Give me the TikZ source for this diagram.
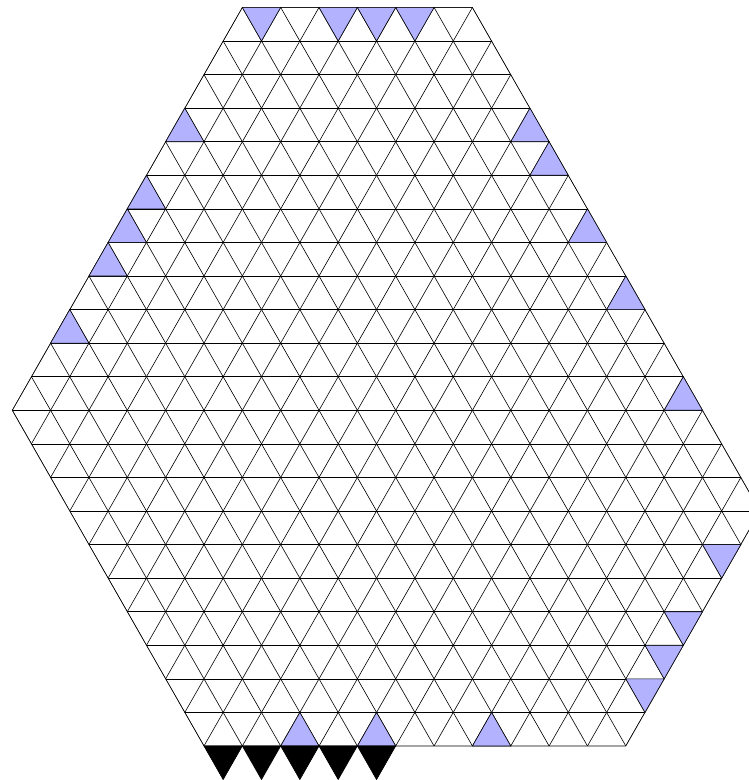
\documentclass[tikz,border=0pt]{standalone}
\usepackage{tikz}

\begin{document}
\begin{tikzpicture}[
    x=1cm, y=0.8754cm,
    grid/.style={line width=0.45pt, black},
    marked/.style={draw, line width=0.45pt, fill=blue!30},
    blocked/.style={draw, line width=0.45pt, fill=black}
]
    \useasboundingbox (-5.319,-1.013) rectangle (14.211,22.222);
    \clip (-5.319,-1.013) rectangle (14.211,22.222);

    % Hexagon corners
    \coordinate (A) at (0,0);
    \coordinate (B) at (11,0);
    \coordinate (C) at (14.5,7);
    \coordinate (D) at (7,22);
    \coordinate (E) at (1,22);
    \coordinate (F) at (-5,10);

    % Triangular lattice
    \begin{scope}
        \clip (A) -- (B) -- (C) -- (D) -- (E) -- (F) -- cycle;
        \foreach \k in {0,...,22}
            \draw[grid] (-6,\k) -- (16,\k);
        \foreach \s in {-12,...,16}
            \draw[grid] (\s,0) -- ++(11,22);
        \foreach \s in {-1,...,19}
            \draw[grid] (\s,0) -- ++(-11,22);
    \end{scope}
    \draw[grid] (A) -- (B) -- (C) -- (D) -- (E) -- (F) -- cycle;

    % Marked triangles pointing up
    \foreach \p in {(-1,18), (-2,16), (-2.5,15), (-3,14), (-4,12),
                    (8,18), (8.5,17), (9.5,15), (10.5,13), (12,10),
                    (2,0), (4,0), (7,0)}
        \draw[marked] \p -- ++(1,0) -- ++(-0.5,1) -- cycle;

    % Marked triangles pointing down
    \foreach \p in {(1,22), (3,22), (4,22), (5,22),
                    (13,6), (12,4), (11.5,3), (11,2)}
        \draw[marked] \p -- ++(1,0) -- ++(-0.5,-1) -- cycle;

    % Black triangles below the bottom side
    \foreach \x in {0,...,4}
        \draw[blocked] (\x,0) -- ++(1,0) -- ++(-0.5,-1) -- cycle;
\end{tikzpicture}
\end{document}
